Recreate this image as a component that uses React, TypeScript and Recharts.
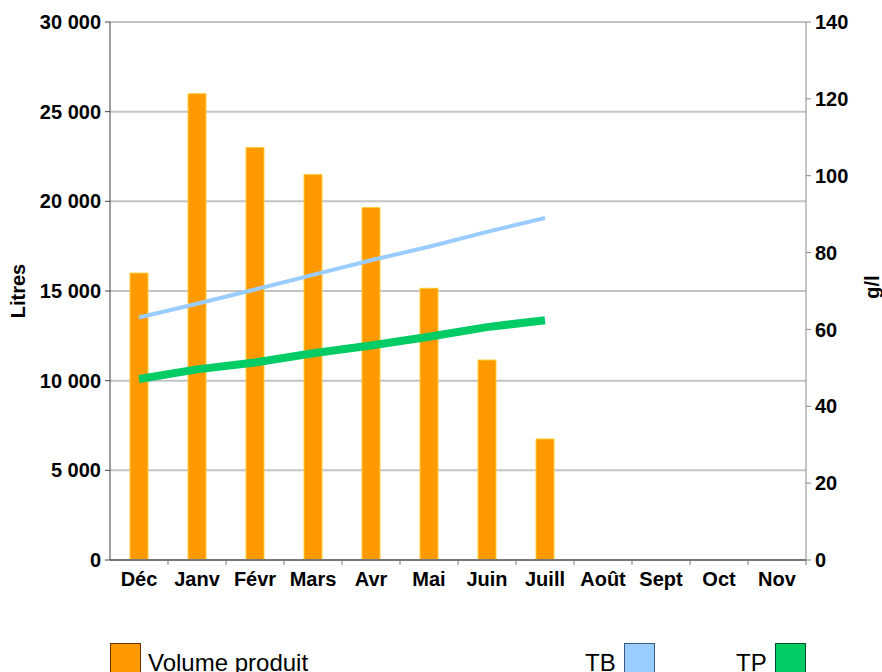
import React from 'react';
import { ComposedChart, Bar, Line, XAxis, YAxis, CartesianGrid, Legend } from 'recharts';

const months = ['Déc', 'Janv', 'Févr', 'Mars', 'Avr', 'Mai', 'Juin', 'Juill', 'Août', 'Sept', 'Oct', 'Nov'];
const volume = [16000, 26000, 23000, 21500, 19650, 15150, 11150, 6750, null, null, null, null];
const tb = [63.1, 66.7, 70.4, 74.2, 78.0, 81.5, 85.4, 89.0, null, null, null, null];
const tp = [47.1, 49.6, 51.4, 53.8, 55.8, 58.1, 60.6, 62.4, null, null, null, null];
const litresTicks = [0, 5000, 10000, 15000, 20000, 25000, 30000];
const glTicks = [0, 20, 40, 60, 80, 100, 120, 140];

const data = months.map((m, i) => ({ month: m, volume: volume[i], tb: tb[i], tp: tp[i] }));

const FONT = '"Liberation Sans", Arial, sans-serif';
const W = 882;
const H = 672;
const LEFT_W = 110;
const RIGHT_W = 76;
const BAND = (W - LEFT_W - RIGHT_W) / months.length;

const fmt = (n: number) => String(n).replace(/\B(?=(\d{3})+(?!\d))/g, ' ');

const XTick = (props: any) => {
  const { x, y, payload } = props;
  return (
    <g>
      <line x1={x + BAND / 2} x2={x + BAND / 2} y1={y} y2={y + 5} stroke="#777" strokeWidth={1} />
      <text x={x} y={y + 26} textAnchor="middle" fontFamily={FONT} fontWeight="bold" fontSize={20} fill="#000">
        {payload.value}
      </text>
    </g>
  );
};

const legendItems = [
  { label: 'Volume produit', color: '#FF9900', border: '#663300', textX: 148, boxX: 110 },
  { label: 'TB', color: '#99CCFF', border: '#3a5a80', textX: 585, boxX: 624 },
  { label: 'TP', color: '#00CC66', border: '#004d26', textX: 736, boxX: 775 },
];

const LegendContent = () => (
  <div style={{ position: 'relative', width: W, height: 62 }}>
    {legendItems.map((it) => (
      <React.Fragment key={it.label}>
        <div
          style={{
            position: 'absolute',
            left: it.boxX,
            top: 33,
            width: 31,
            height: 40,
            background: it.color,
            border: `1px solid ${it.border}`,
            boxSizing: 'border-box',
          }}
        />
        <div
          style={{
            position: 'absolute',
            left: it.textX,
            top: 39,
            fontFamily: FONT,
            fontSize: 24,
            lineHeight: '28px',
            color: '#000',
            whiteSpace: 'nowrap',
          }}
        >
          {it.label}
        </div>
      </React.Fragment>
    ))}
  </div>
);

export default function App() {
  return (
    <div style={{ position: 'fixed', left: 0, top: 0, width: W, height: H, background: '#fff', overflow: 'hidden' }}>
      <ComposedChart width={W} height={H} data={data} margin={{ top: 22, right: 0, bottom: 0, left: 0 }} barCategoryGap={0}>
        <CartesianGrid yAxisId="left" vertical={false} stroke="#c4c4c4" strokeWidth={2} />
        <XAxis
          dataKey="month"
          height={50}
          interval={0}
          tickLine={false}
          tickSize={0}
          tickMargin={0}
          tick={<XTick />}
          stroke="#777"
          strokeWidth={2}
        />
        <YAxis
          yAxisId="left"
          width={LEFT_W}
          domain={[0, 30000]}
          ticks={litresTicks}
          tickFormatter={fmt}
          interval={0}
          tickSize={5}
          tickMargin={4}
          stroke="#444"
          tick={{ fontFamily: FONT, fontWeight: 'bold', fontSize: 20, fill: '#000' }}
          label={{
            content: (p: any) => (
              <text
                x={18}
                y={p.viewBox.y + p.viewBox.height / 2}
                transform={`rotate(-90, 18, ${p.viewBox.y + p.viewBox.height / 2})`}
                textAnchor="middle"
                dominantBaseline="central"
                fontFamily={FONT}
                fontWeight="bold"
                fontSize={20}
                fill="#000"
              >
                Litres
              </text>
            ),
          }}
        />
        <YAxis
          yAxisId="right"
          orientation="right"
          width={RIGHT_W}
          domain={[0, 140]}
          ticks={glTicks}
          interval={0}
          tickSize={5}
          tickMargin={4}
          stroke="#888"
          tick={{ fontFamily: FONT, fontWeight: 'bold', fontSize: 20, fill: '#000' }}
          label={{
            content: (p: any) => (
              <text
                x={872}
                y={p.viewBox.y + p.viewBox.height / 2 - 4}
                transform={`rotate(-90, 872, ${p.viewBox.y + p.viewBox.height / 2 - 4})`}
                textAnchor="middle"
                dominantBaseline="central"
                fontFamily={FONT}
                fontWeight="bold"
                fontSize={20}
                fill="#000"
              >
                g/l
              </text>
            ),
          }}
        />
        <Legend verticalAlign="bottom" height={62} content={<LegendContent />} wrapperStyle={{ left: 0, bottom: 0, width: W, height: 62 }} />
        <Bar yAxisId="left" dataKey="volume" name="Volume produit" fill="#FF9900" stroke="#FFCC33" strokeWidth={1} barSize={18} isAnimationActive={false} />
        <Line yAxisId="right" dataKey="tb" name="TB" stroke="#99CCFF" strokeWidth={4} dot={false} type="linear" isAnimationActive={false} />
        <Line yAxisId="right" dataKey="tp" name="TP" stroke="#00CC66" strokeWidth={8} dot={false} type="linear" isAnimationActive={false} />
      </ComposedChart>
    </div>
  );
}
